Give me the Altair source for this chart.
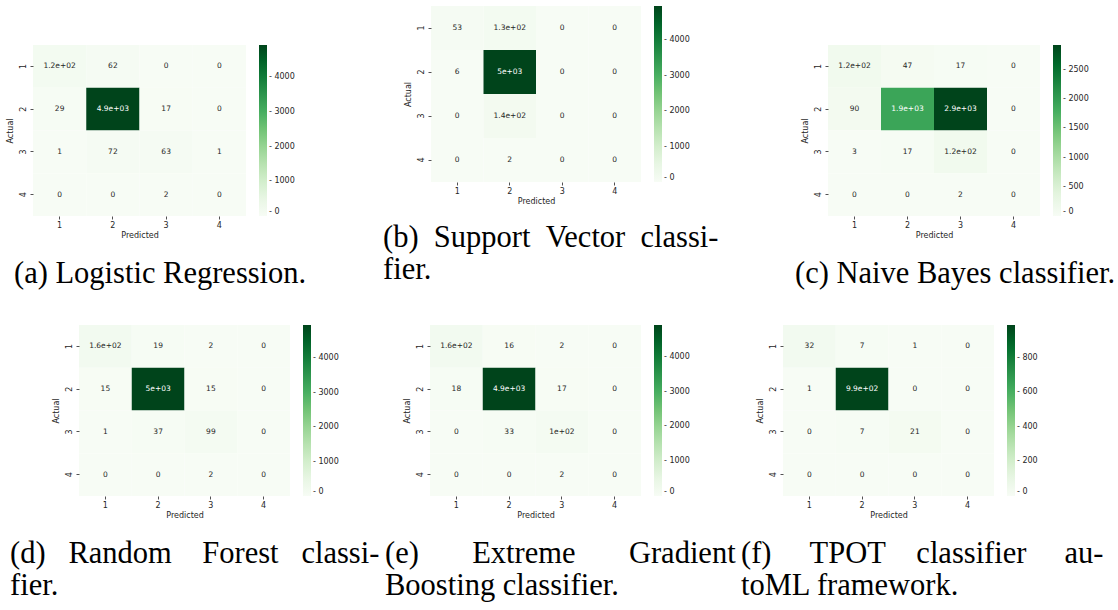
import altair as alt
import pandas as pd

classes = ["1", "2", "3", "4"]

# confusion matrices (rows = Actual 1..4, cols = Predicted 1..4)
lr_values = [[120, 62, 0, 0], [29, 4930, 17, 0], [1, 72, 63, 1], [0, 0, 2, 0]]
svc_values = [[53, 130, 0, 0], [6, 4960, 0, 0], [0, 140, 0, 0], [0, 2, 0, 0]]
nb_values = [[120, 47, 17, 0], [90, 1900, 2930, 0], [3, 17, 120, 0], [0, 0, 2, 0]]
rf_values = [[160, 19, 2, 0], [15, 4960, 15, 0], [1, 37, 99, 0], [0, 0, 2, 0]]
xgb_values = [[160, 16, 2, 0], [18, 4920, 17, 0], [0, 33, 100, 0], [0, 0, 2, 0]]
tpot_values = [[32, 7, 1, 0], [1, 990, 0, 0], [0, 7, 21, 0], [0, 0, 0, 0]]

# colour-bar tick labels
lr_ticks = [0, 1000, 2000, 3000, 4000]
svc_ticks = [0, 1000, 2000, 3000, 4000]
nb_ticks = [0, 500, 1000, 1500, 2000, 2500]
rf_ticks = [0, 1000, 2000, 3000, 4000]
xgb_ticks = [0, 1000, 2000, 3000, 4000]
tpot_ticks = [0, 200, 400, 600, 800]

# matplotlib "Greens" colormap anchor colours
greens = ["#f7fcf5", "#e5f5e0", "#c7e9c0", "#a1d99b", "#74c476",
          "#41ab5d", "#238b45", "#006d2c", "#00441b"]

NB = "\u00a0"
cap_a = ["(a) Logistic Regression."]
cap_b = ["(b)" + NB * 2 + "Support" + NB * 2 + "Vector" + NB * 2 + "classi-", "fier."]
cap_c = ["(c) Naive Bayes classifier."]
cap_d = ["(d)" + NB * 3 + "Random" + NB * 4 + "Forest" + NB * 3 + "classi-", "fier."]
cap_e = ["(e)" + NB * 7 + "Extreme" + NB * 7 + "Gradient", "Boosting classifier."]
cap_f = ["(f)" + NB * 5 + "TPOT" + NB * 4 + "classifier" + NB * 5 + "au-", "toML framework."]

SANS = "DejaVu Sans"
SERIF = "Liberation Serif"
INK = "#262626"


def panel(values, ticks, caption, width, height, cap_dx, cap_offset):
    cmax = max(max(r) for r in values)
    rows = []
    for i, a in enumerate(classes):
        for j, p in enumerate(classes):
            v = values[i][j]
            rows.append({"Actual": a, "Predicted": p, "n": v, "label": f"{v:.2g}"})
    df = pd.DataFrame(rows)
    stops = [cmax * k / (len(greens) - 1) for k in range(len(greens))]

    rect = alt.Chart(df).mark_rect().encode(
        x=alt.X("Predicted:N", sort=classes, title="Predicted",
                axis=alt.Axis(labelAngle=0, orient="bottom")),
        y=alt.Y("Actual:N", sort=classes, title="Actual",
                axis=alt.Axis(labelAngle=270, labelPadding=3, titlePadding=5)),
        color=alt.Color(
            "n:Q",
            scale=alt.Scale(domain=stops, range=greens, interpolate="rgb"),
            legend=alt.Legend(title=None, values=ticks, format="d",
                              gradientLength=height, labelExpr="'- ' + datum.label"),
        ),
    )
    text = alt.Chart(df).mark_text(font=SANS, fontSize=7.5).encode(
        x=alt.X("Predicted:N", sort=classes),
        y=alt.Y("Actual:N", sort=classes),
        text="label:N",
        color=alt.condition(alt.datum.n > 0.55 * cmax, alt.value("white"), alt.value(INK)),
    )
    return alt.layer(rect, text).properties(
        width=width,
        height=height,
        title=alt.TitleParams(text=caption, orient="bottom", anchor="start", frame="bounds",
                              dx=cap_dx, offset=cap_offset, font=SERIF, fontSize=30.5,
                              fontWeight="normal", color="black", lineHeight=32),
    )


def spacer(w, h):
    return alt.Chart(pd.DataFrame({"s": [0]})).mark_point(opacity=0, size=1).encode(
        x=alt.value(0), y=alt.value(0)).properties(width=w, height=h)


def own(c):
    return c.resolve_scale(color="independent")


pa = panel(lr_values, lr_ticks, cap_a, 213, 171, 8, 20)
pb = panel(svc_values, svc_ticks, cap_b, 210, 176, -21, 18)
pc = panel(nb_values, nb_ticks, cap_c, 212, 171, -6, 20)
pd_ = panel(rf_values, rf_ticks, cap_d, 211, 171, -42, 20)
pe = panel(xgb_values, xgb_ticks, cap_e, 211, 171, -18, 20)
pf = panel(tpot_values, tpot_ticks, cap_f, 211, 171, -15, 20)

# a and c sit lower than b; d sits further right than a
cell_a = own(alt.hconcat(spacer(1, 1), own(alt.vconcat(spacer(1, 39), pa, spacing=0)), spacing=0))
cell_c = own(alt.vconcat(spacer(1, 39), pc, spacing=0))
cell_d = own(alt.hconcat(spacer(5, 1), pd_, spacing=0))

row1 = own(alt.hconcat(cell_a, pb, cell_c, spacing=76))
row2 = own(alt.hconcat(cell_d, pe, pf, spacing=5))

chart = (
    own(alt.vconcat(row1, row2, spacing=34))
    .properties(padding={"left": 4, "top": 5, "right": 2, "bottom": 2}, background="white")
    .configure_view(stroke=None)
    .configure_axis(
        labelFont=SANS, labelFontSize=8, labelColor=INK,
        titleFont=SANS, titleFontSize=8, titleFontWeight="normal", titleColor=INK,
        tickColor=INK, tickSize=3, tickWidth=0.8, domain=False, grid=False,
        labelPadding=2, titlePadding=2,
    )
    .configure_legend(
        labelFont=SANS, labelFontSize=8, labelColor=INK, gradientThickness=8,
        gradientStrokeWidth=0, padding=0, offset=13, labelOffset=1,
    )
)

chart.save("out.html", embed_options={"renderer": "svg", "actions": False})
